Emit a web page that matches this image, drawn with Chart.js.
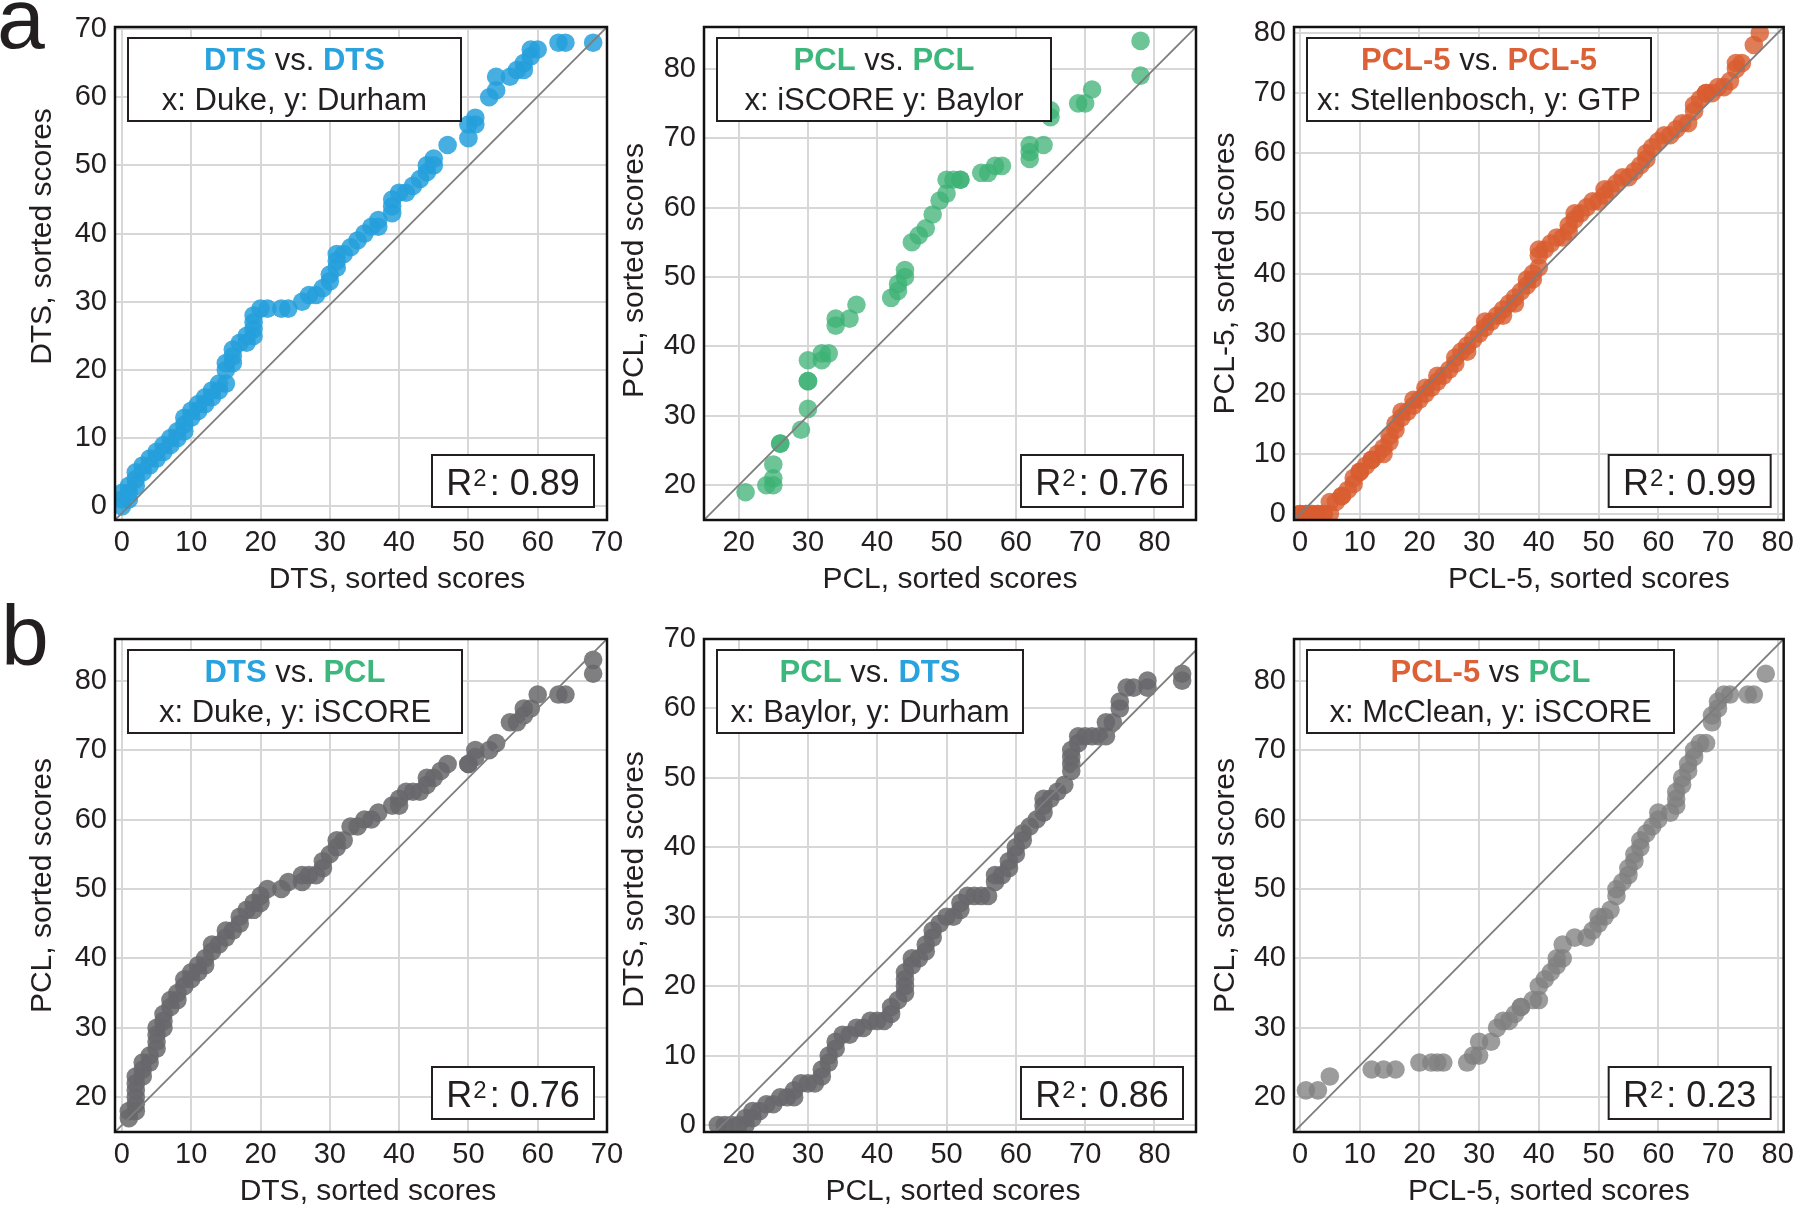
<!DOCTYPE html>
<html>
<head>
<meta charset="utf-8">
<script src="https://cdn.jsdelivr.net/npm/chart.js@4.4.1/dist/chart.umd.min.js"></script>
<style>
html, body { margin: 0; padding: 0; background: #fff; overflow: hidden; }
#fig { position: relative; width: 1800px; height: 1206px; }
#fig canvas { position: absolute; }
.tag { position: absolute; font-family: "Liberation Sans", Arial, sans-serif; font-size: 86px; line-height: 1; color: #231f20; }
</style>
</head>
<body>
<div id="fig">
  <div class="tag" style="left:-3px;top:-25px">a</div>
  <div class="tag" style="left:1px;top:592px">b</div>
</div>
<script>
// sorted score pairs [x, y]
const dtsDukeDurham = [[0,0],[0,1],[0,2],[1,1],[1,2],[1,3],[2,3],[2,4],[2,5],[3,5],[3,6],[4,6],[4,7],[5,7],[5,8],[6,8],[6,9],[7,9],[7,10],[8,10],[8,11],[9,11],[9,12],[9,13],[10,13],[10,14],[11,14],[11,15],[12,15],[12,16],[13,16],[13,17],[14,17],[14,18],[15,18],[15,20],[15,21],[16,21],[16,22],[16,23],[17,24],[18,24],[18,25],[19,25],[19,26],[19,27],[19,28],[20,29],[21,29],[23,29],[24,29],[26,30],[27,31],[28,31],[29,32],[30,33],[30,34],[31,35],[31,36],[31,37],[32,37],[33,38],[34,39],[35,40],[36,41],[37,41],[37,42],[39,43],[39,44],[39,45],[40,46],[41,46],[42,47],[43,48],[44,49],[44,50],[45,50],[45,51],[47,53],[50,54],[50,56],[51,56],[51,57],[53,60],[54,61],[54,63],[56,63],[57,64],[58,64],[58,65],[59,66],[59,67],[60,67],[63,68],[64,68],[68,68]];

const pclIscoreBaylor = [[21,19],[24,20],[25,20],[25,21],[25,23],[26,26],[26,26],[29,28],[30,31],[30,35],[30,35],[30,38],[32,38],[32,39],[33,39],[34,43],[34,44],[36,44],[37,46],[42,47],[43,48],[43,49],[44,50],[44,51],[45,55],[46,56],[47,57],[48,59],[49,61],[50,62],[50,64],[51,64],[52,64],[52,64],[55,65],[56,65],[57,66],[58,66],[62,67],[62,68],[62,69],[64,69],[65,73],[65,74],[69,75],[70,75],[71,77],[78,79],[78,84]];

const pcl5StellGtp = [[0,0],[0,0],[1,0],[1,0],[2,0],[2,0],[3,0],[3,0],[4,0],[4,0],[5,0],[5,2],[6,2],[7,3],[7,3],[8,4],[9,5],[9,6],[10,7],[10,7],[11,8],[12,9],[12,9],[13,10],[14,10],[14,11],[15,12],[15,13],[16,14],[16,15],[17,16],[17,17],[18,17],[19,18],[19,19],[20,19],[21,20],[21,21],[22,21],[23,22],[23,23],[24,23],[25,24],[26,25],[26,26],[27,27],[28,27],[28,28],[29,29],[30,30],[31,31],[31,32],[32,32],[33,33],[34,33],[34,34],[35,35],[36,35],[36,36],[37,37],[38,38],[38,39],[39,39],[39,40],[40,41],[40,43],[40,44],[41,44],[42,45],[43,46],[44,46],[45,47],[45,48],[46,49],[46,50],[47,50],[48,51],[49,52],[50,52],[51,53],[51,54],[52,54],[53,55],[54,56],[55,56],[56,57],[57,58],[58,59],[58,60],[59,61],[60,62],[61,63],[62,63],[63,64],[64,65],[65,65],[66,67],[66,68],[67,69],[68,70],[68,70],[69,70],[70,71],[71,71],[72,72],[73,74],[73,75],[74,75],[76,78],[77,80]];

const dtsPclDukeIscore = [[1,17],[1,18],[2,18],[2,19],[2,20],[2,21],[2,22],[2,23],[3,23],[3,24],[3,25],[4,25],[4,26],[5,27],[5,28],[5,29],[5,30],[6,30],[6,31],[6,32],[7,33],[7,34],[8,34],[8,35],[9,36],[9,37],[10,37],[10,38],[11,38],[11,39],[12,39],[12,40],[13,41],[13,42],[14,42],[15,43],[15,44],[16,44],[17,45],[17,46],[18,47],[19,47],[19,48],[20,48],[20,49],[21,50],[23,50],[24,51],[26,51],[26,52],[27,52],[28,52],[29,53],[29,54],[30,55],[31,56],[31,57],[32,57],[33,59],[34,59],[35,60],[36,60],[37,61],[39,62],[40,62],[40,63],[41,64],[42,64],[43,64],[44,65],[44,66],[45,66],[46,67],[47,68],[50,68],[50,68],[51,69],[51,70],[53,70],[54,71],[56,74],[57,74],[58,75],[58,76],[59,76],[60,78],[63,78],[64,78],[68,81],[68,83]];

const pclDtsBaylorDurham = [[17,0],[18,0],[19,0],[20,0],[21,0],[21,1],[22,1],[22,2],[23,2],[24,3],[25,3],[26,4],[27,4],[28,4],[28,5],[29,6],[30,6],[31,6],[32,7],[32,8],[33,9],[33,10],[34,11],[34,12],[35,13],[36,13],[37,14],[38,14],[39,15],[40,15],[41,15],[42,16],[42,17],[43,18],[44,19],[44,20],[44,21],[44,22],[45,23],[45,24],[46,24],[47,25],[47,26],[48,27],[48,28],[49,29],[50,30],[51,30],[52,31],[52,32],[53,33],[54,33],[55,33],[56,33],[57,35],[57,36],[58,36],[59,37],[59,38],[60,39],[60,40],[61,41],[61,42],[62,43],[63,44],[64,45],[64,46],[64,47],[65,47],[66,48],[67,49],[68,51],[68,52],[68,53],[68,54],[69,55],[69,56],[70,56],[71,56],[72,56],[73,56],[73,58],[74,58],[75,60],[75,61],[76,63],[77,63],[79,63],[79,64],[84,64],[84,65]];

const pcl5PclMccleanIscore = [[1,21],[3,21],[5,23],[12,24],[14,24],[16,24],[20,25],[22,25],[23,25],[24,25],[28,25],[29,26],[30,26],[30,28],[32,28],[33,30],[34,31],[35,31],[36,32],[37,33],[37,33],[39,34],[40,34],[40,36],[41,37],[42,38],[43,39],[43,40],[44,40],[44,42],[46,43],[48,43],[49,44],[50,45],[50,46],[51,46],[52,47],[53,49],[53,50],[54,51],[55,52],[55,53],[56,54],[56,55],[57,56],[57,57],[58,58],[59,59],[60,60],[60,61],[62,61],[63,62],[63,63],[63,64],[64,65],[64,66],[65,67],[65,68],[66,69],[66,70],[67,71],[68,71],[69,74],[69,75],[70,76],[70,77],[71,78],[72,78],[75,78],[76,78],[78,81]];

// axis limits [min, max]
const a1X = [-1, 70], a1Y = [-2, 70.3];
const a2X = [15, 86], a2Y = [15, 86];
const a3X = [-1, 81], a3Y = [-1, 81];
const b1X = [-1, 70], b1Y = [15, 86];
const b2X = [15, 86], b2Y = [-1, 70];
const b3X = [-1, 81], b3Y = [15, 86];

// reference line end points
const a1Diag = [[-1,-2],[70,70.3]];
const a2Diag = [[15,15],[86,86]];
const a3Diag = [[-1,-1],[81,81]];
const b1Diag = [[-1,15],[70,86]];
const b2Diag = [[15,-2.6],[86,68.4]];
const b3Diag = [[-1,15],[81,86]];

const r2Values = ['0.89', '0.76', '0.99', '0.76', '0.86', '0.23'];

const FONT = '"Liberation Sans", Arial, Helvetica, sans-serif';
const INK = '#231f20';
const C_DTS = '#29a3dd', C_PCL = '#3cb87c', C_PCL5 = '#dc6136';

const panels = [
  { pts: dtsDukeDurham, xr: a1X, yr: a1Y, diag: a1Diag, color: 'rgba(38,160,220,0.85)',
    head: [['DTS', C_DTS, true], [' vs. ', INK, false], ['DTS', C_DTS, true]], sub: 'x: Duke, y: Durham', boxW: 333,
    xTitle: 'DTS, sorted scores', yTitle: 'DTS, sorted scores', xShift: 36, yShift: -37 },
  { pts: pclIscoreBaylor, xr: a2X, yr: a2Y, diag: a2Diag, color: 'rgba(60,178,116,0.75)',
    head: [['PCL', C_PCL, true], [' vs. ', INK, false], ['PCL', C_PCL, true]], sub: 'x: iSCORE y: Baylor', boxW: 334,
    xTitle: 'PCL, sorted scores', yTitle: 'PCL, sorted scores', xShift: 0, yShift: -3 },
  { pts: pcl5StellGtp, xr: a3X, yr: a3Y, diag: a3Diag, color: 'rgba(216,92,48,0.8)',
    head: [['PCL-5', C_PCL5, true], [' vs. ', INK, false], ['PCL-5', C_PCL5, true]], sub: 'x: Stellenbosch, y: GTP', boxW: 344,
    xTitle: 'PCL-5, sorted scores', yTitle: 'PCL-5, sorted scores', xShift: 50, yShift: 0 },
  { pts: dtsPclDukeIscore, xr: b1X, yr: b1Y, diag: b1Diag, color: 'rgba(104,105,108,0.85)',
    head: [['DTS', C_DTS, true], [' vs. ', INK, false], ['PCL', C_PCL, true]], sub: 'x: Duke, y: iSCORE', boxW: 334,
    xTitle: 'DTS, sorted scores', yTitle: 'PCL, sorted scores', xShift: 7, yShift: 0 },
  { pts: pclDtsBaylorDurham, xr: b2X, yr: b2Y, diag: b2Diag, color: 'rgba(104,105,108,0.85)',
    head: [['PCL', C_PCL, true], [' vs. ', INK, false], ['DTS', C_DTS, true]], sub: 'x: Baylor, y: Durham', boxW: 306,
    xTitle: 'PCL, sorted scores', yTitle: 'DTS, sorted scores', xShift: 3, yShift: -6 },
  { pts: pcl5PclMccleanIscore, xr: b3X, yr: b3Y, diag: b3Diag, color: 'rgba(128,128,130,0.78)',
    head: [['PCL-5', C_PCL5, true], [' vs ', INK, false], ['PCL', C_PCL, true]], sub: 'x: McClean, y: iSCORE', boxW: 367,
    xTitle: 'PCL-5, sorted scores', yTitle: 'PCL, sorted scores', xShift: 10, yShift: 0 }
];

const colLeft = [0, 589, 1179], colWidth = [640, 640, 621], yTitleOff = [72, 69, 68];
const rowTop = [0, 612], rowHeight = [610, 594];
const PLOT = 492, PLOT_H = 493, YAXIS_W = 115, TOP_PAD = 27;

// boxes, frame and axis titles
const panelDecor = {
  id: 'panelDecor',
  afterDatasetsDraw(chart, args, o) {
    const { ctx, chartArea: a } = chart;
    ctx.save();
    ctx.lineWidth = 2;
    ctx.strokeStyle = INK;

    // title box
    const bx = a.left + 13, by = a.top + 11, bh = 83;
    ctx.fillStyle = '#fff';
    ctx.fillRect(bx, by, o.boxW, bh);
    ctx.strokeRect(bx, by, o.boxW, bh);

    ctx.textBaseline = 'alphabetic';
    ctx.textAlign = 'left';
    let total = 0;
    const widths = o.head.map(s => {
      ctx.font = (s[2] ? 'bold ' : '') + '31px ' + FONT;
      const w = ctx.measureText(s[0]).width;
      total += w;
      return w;
    });
    let x = bx + o.boxW / 2 - total / 2;
    o.head.forEach((s, i) => {
      ctx.font = (s[2] ? 'bold ' : '') + '31px ' + FONT;
      ctx.fillStyle = s[1];
      ctx.fillText(s[0], x, by + 32);
      x += widths[i];
    });
    ctx.font = '31px ' + FONT;
    ctx.fillStyle = INK;
    ctx.textAlign = 'center';
    ctx.fillText(o.sub, bx + o.boxW / 2, by + 71.5);

    // R² box
    const rw = 162, rh = 52;
    const rx = a.right - 13 - rw, ry = a.bottom - 13 - rh;
    ctx.fillStyle = '#fff';
    ctx.fillRect(rx, ry, rw, rh);
    ctx.strokeRect(rx, ry, rw, rh);
    ctx.fillStyle = INK;
    ctx.textAlign = 'left';
    ctx.font = '36px ' + FONT;
    const wR = ctx.measureText('R').width;
    const val = ': ' + o.r2;
    const wV = ctx.measureText(val).width;
    ctx.font = '24px ' + FONT;
    const w2 = ctx.measureText('2').width;
    const gap = 4;
    const x0 = rx + rw / 2 - (wR + w2 + gap + wV) / 2;
    const base = ry + rh - 12;
    ctx.font = '36px ' + FONT;
    ctx.fillText('R', x0, base);
    ctx.fillText(val, x0 + wR + w2 + gap, base);
    ctx.font = '24px ' + FONT;
    ctx.fillText('2', x0 + wR + 1, base - 9);
    ctx.restore();
  },
  afterDraw(chart, args, o) {
    const { ctx, chartArea: a } = chart;
    ctx.save();
    ctx.lineWidth = 2.5;
    ctx.strokeStyle = '#111';
    ctx.strokeRect(a.left, a.top, a.width, a.height);

    ctx.fillStyle = INK;
    ctx.font = '30px ' + FONT;
    ctx.textAlign = 'center';
    ctx.textBaseline = 'middle';
    ctx.fillText(o.xTitle, a.left + a.width / 2 + o.xShift, a.bottom + 60);
    ctx.translate(a.left - o.yOff, a.top + a.height / 2 + o.yShift);
    ctx.rotate(-Math.PI / 2);
    ctx.fillText(o.yTitle, 0, 0);
    ctx.restore();
  }
};

function axis(range, isX, size) {
  return {
    type: 'linear',
    min: range[0],
    max: range[1],
    afterFit: s => { if (isX) s.height = size; else s.width = size; },
    ticks: {
      stepSize: 10,
      includeBounds: false,
      autoSkip: false,
      maxRotation: 0,
      color: INK,
      padding: isX ? 6 : 8,
      font: { family: FONT, size: 29 }
    },
    grid: { color: '#d7d7d7', lineWidth: 2, drawTicks: false },
    border: { display: false },
    title: { display: false }
  };
}

const toXY = arr => arr.map(p => ({ x: p[0], y: p[1] }));
const fig = document.getElementById('fig');

panels.forEach((p, i) => {
  const col = i % 3, row = Math.floor(i / 3);
  const w = colWidth[col], h = rowHeight[row];
  const cv = document.createElement('canvas');
  cv.width = w;
  cv.height = h;
  cv.style.left = colLeft[col] + 'px';
  cv.style.top = rowTop[row] + 'px';
  fig.appendChild(cv);

  new Chart(cv, {
    type: 'scatter',
    data: {
      datasets: [
        // y = x reference line, drawn on top
        {
          data: toXY(p.diag),
          showLine: true,
          borderColor: '#7d7d7d',
          borderWidth: 1.8,
          pointRadius: 0
        },
        {
          data: toXY(p.pts),
          backgroundColor: p.color,
          borderWidth: 0,
          pointRadius: 9.3
        }
      ]
    },
    options: {
      responsive: false,
      animation: false,
      events: [],
      layout: { padding: { top: TOP_PAD, right: w - YAXIS_W - PLOT, left: 0, bottom: 0 } },
      plugins: {
        legend: { display: false },
        tooltip: { enabled: false },
        panelDecor: {
          head: p.head, sub: p.sub, boxW: p.boxW, r2: r2Values[i],
          xTitle: p.xTitle, yTitle: p.yTitle, xShift: p.xShift, yShift: p.yShift,
          yOff: yTitleOff[col]
        }
      },
      scales: {
        x: axis(p.xr, true, h - TOP_PAD - PLOT_H),
        y: axis(p.yr, false, YAXIS_W)
      }
    },
    plugins: [panelDecor]
  });
});
</script>
</body>
</html>
